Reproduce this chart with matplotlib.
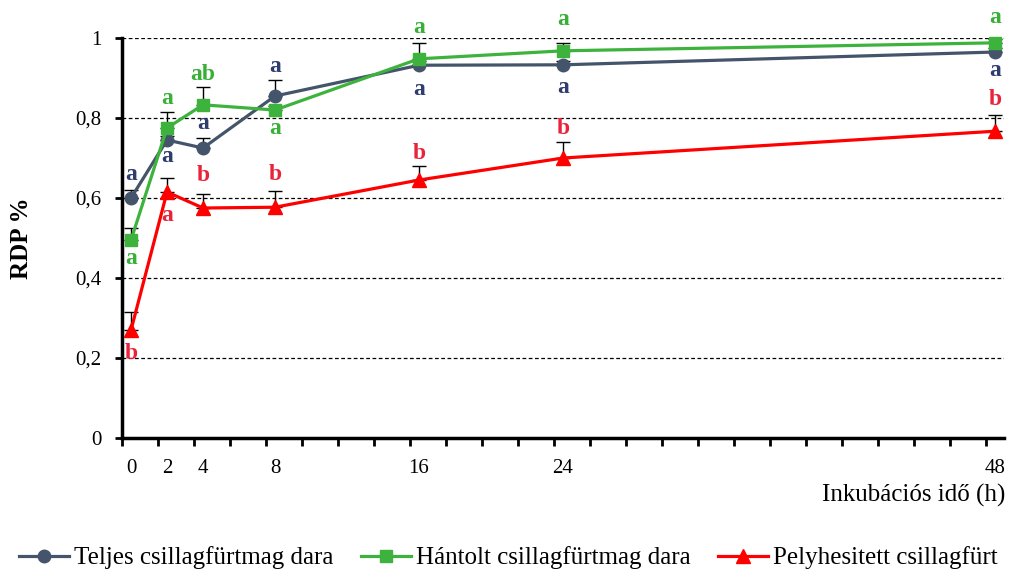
import matplotlib
matplotlib.use("Agg")
import matplotlib.pyplot as plt
import numpy as np

# ---- data ----
hours = [0, 2, 4, 8, 16, 24, 48]
xlabels = ["0", "2", "4", "8", "16", "24", "48"]
teljes = [0.60, 0.745, 0.725, 0.855, 0.932, 0.933, 0.965]
teljes_err = [0.02, 0.01, 0.025, 0.04, 0.01, 0.01, 0.01]
hantolt = [0.495, 0.775, 0.833, 0.82, 0.948, 0.968, 0.988]
hantolt_err = [0.03, 0.04, 0.045, 0.01, 0.04, 0.02, 0.01]
pelyh = [0.27, 0.615, 0.575, 0.577, 0.645, 0.70, 0.767]
pelyh_err = [0.045, 0.035, 0.035, 0.04, 0.035, 0.04, 0.04]

teljes_let = ["a", "a", "a", "a", "a", "a", "a"]
hantolt_let = ["a", "a", "ab", "a", "a", "a", "a"]
pelyh_let = ["b", "a", "b", "b", "b", "b", "b"]

names = ["Teljes csillagfürtmag dara", "Hántolt csillagfürtmag dara", "Pelyhesitett csillagfürt"]
yticks = [0, 0.2, 0.4, 0.6, 0.8, 1.0]
ytick_labels = ["0", "0,2", "0,4", "0,6", "0,8", "1"]

# ---- layout (letter offsets in pixels) ----
teljes_off = [24, -16, 25, 30, -24, -23, -18]
hantolt_off = [-18, 30, 30, -18, 31, 31, 25]
pelyh_off = [-23, -23, 33, 33, 27, 30, 32]

serif = ["Liberation Serif", "DejaVu Serif"]
plt.rcParams["font.family"] = serif

fig = plt.figure(figsize=(10.11, 5.77), dpi=100)
ax = fig.add_axes([0.1207, 0.2409, 0.8723, 0.6932])

c_dark = "#44546A"
c_green = "#3DB33D"
c_red = "#FF0000"
l_dark = "#2E3D6E"
l_green = "#38B038"
l_red = "#E8233A"

for y in yticks[1:]:
    ax.axhline(y, color="black", lw=0.9, ls=(0, (3, 2)), zorder=1)

series = [
    (teljes, teljes_err, c_dark, "o", 9, teljes_let, teljes_off, l_dark),
    (hantolt, hantolt_err, c_green, "s", 8.5, hantolt_let, hantolt_off, l_green),
    (pelyh, pelyh_err, c_red, "^", 10, pelyh_let, pelyh_off, l_red),
]
handles = []
for i, (vals, err, col, mk, ms, lets, offs, lcol) in enumerate(series):
    ax.errorbar(hours, vals, yerr=[np.zeros(len(err)), err], fmt="none",
                ecolor="black", elinewidth=1, capsize=5, capthick=1, zorder=2 + i)
    h, = ax.plot(hours, vals, color=col, lw=2.3, marker=mk, ms=ms,
                 markeredgecolor=col, zorder=3 + i, clip_on=False)
    handles.append(h)
    for x, v, t, o in zip(hours, vals, lets, offs):
        ax.annotate(t, (x, v), xytext=(0, o), textcoords="offset pixels",
                    ha="center", va="center", color=lcol, fontsize=17,
                    fontweight="bold", annotation_clip=False, zorder=10)

ax.set_xlim(-0.5, 48.5)
ax.set_ylim(0, 1)
ax.set_yticks(yticks)
ax.set_yticklabels(ytick_labels, fontsize=15)
ax.set_xticks(np.arange(-0.5, 48, 2), minor=True)
ax.set_xticks(hours)
ax.set_xticklabels(xlabels, fontsize=15)
ax.tick_params(axis="x", which="major", length=0, pad=15)
ax.tick_params(axis="x", which="minor", length=6, width=2, direction="out")
ax.tick_params(axis="y", length=5, width=2, direction="out", pad=10)
for s in ["top", "right"]:
    ax.spines[s].set_visible(False)
for s in ["left", "bottom"]:
    ax.spines[s].set_linewidth(2.5)

ax.set_ylabel("RDP %", fontsize=18, fontweight="bold", labelpad=30)
fig.text(0.994, 0.142, "Inkubációs idő (h)", ha="right", va="center", fontsize=18)

fig.legend(handles, names, loc="center", bbox_to_anchor=(0.503, 0.033), ncol=3,
           frameon=False, fontsize=18, handlelength=2.0, handletextpad=0.2,
           columnspacing=1.1)

fig.savefig("out.png", dpi=100)
